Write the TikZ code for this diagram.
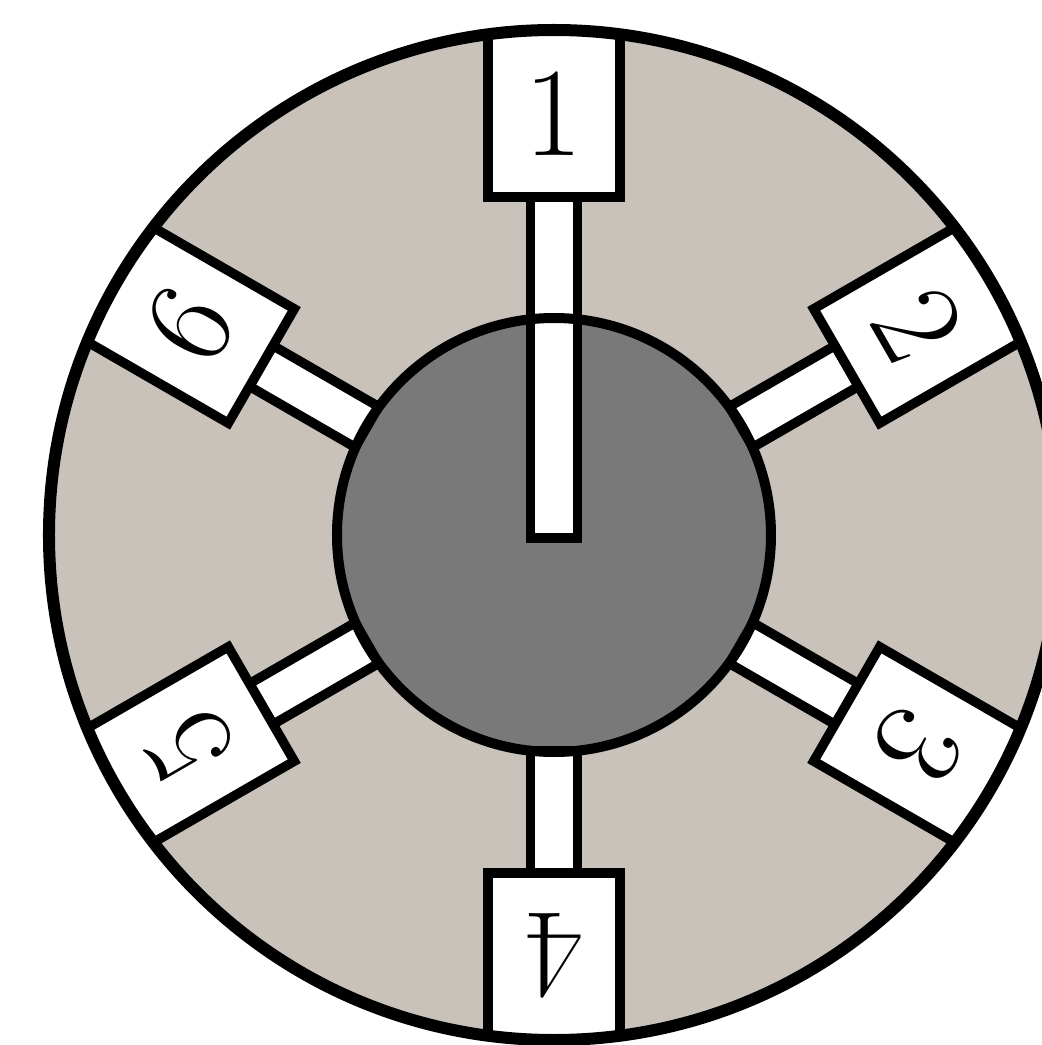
\documentclass[tikz,border=0pt]{standalone}
\begin{document}
\begin{tikzpicture}[x=0.01cm,y=0.01cm,
  ringfill/.style={fill={rgb,255:red,201;green,194;blue,187}},
  hubfill/.style={fill={rgb,255:red,121;green,121;blue,121}},
  outline/.style={draw=black,line width=0.1cm},
  rimline/.style={draw=black,line width=0.12cm},
  whitepart/.style={fill=white,draw=black,line width=0.095cm,line join=miter},
  numlabel/.style={inner sep=0pt,font=\fontsize{36}{36}\selectfont}]
\useasboundingbox (-554,-510) rectangle (487,535);
% outer disc
\path[ringfill] (0,0) circle (505);
% hub
\path[hubfill] (0,0) circle (217);
% spokes
\foreach \a in {30,-30,-90,-150,150}
  \draw[whitepart,rotate=\a] (216,-23.5) rectangle (338,23.5);
\draw[whitepart,rotate=90] (-3,-23.5) rectangle (338,23.5);
% boxes clipped by the rim
\begin{scope}
  \clip (0,0) circle (505);
  \foreach \a in {90,30,-30,-90,-150,150}
    \draw[whitepart,rotate=\a] (338,-66) rectangle (620,66);
\end{scope}
% outlines
\draw[rimline] (0,0) circle (505);
\draw[outline] (0,0) circle (217);
% numbers
\foreach \a/\n in {90/1,30/2,-30/3,-90/4,-150/5,150/6}
  \node[numlabel,rotate=\a-90] (n\n) at (\a:421) {\n};
\end{tikzpicture}
\end{document}
